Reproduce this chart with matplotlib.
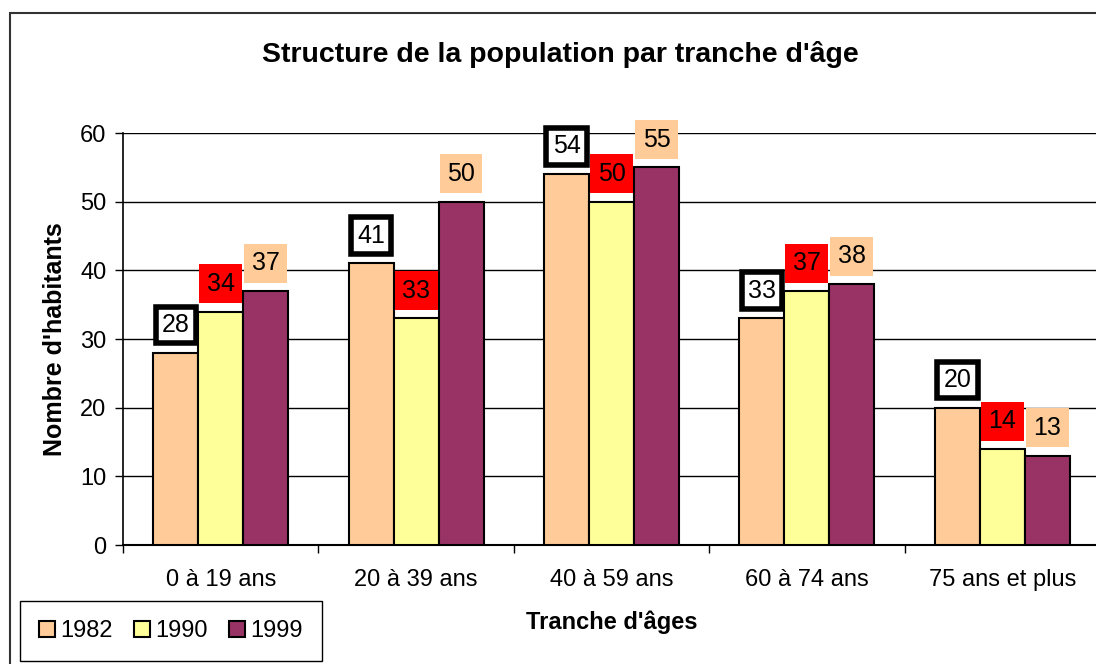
import numpy as np
import matplotlib
matplotlib.use("Agg")
import matplotlib.pyplot as plt
from matplotlib.patches import Rectangle

plt.rcParams['font.family'] = ['Liberation Sans', 'DejaVu Sans']

# donnees
tranches = ["0 à 19 ans", "20 à 39 ans", "40 à 59 ans", "60 à 74 ans", "75 ans et plus"]
annees = ["1982", "1990", "1999"]
v1982 = [28, 41, 54, 33, 20]
v1990 = [34, 33, 50, 37, 14]
v1999 = [37, 50, 55, 38, 13]

couleurs = ["#FFCC99", "#FFFF99", "#993366"]
fig = plt.figure(figsize=(10.96, 6.64), dpi=100)
ax = fig.add_axes([123/1096, 1-545/664, 977/1096, 412/664])

x = np.arange(len(tranches))
w = 0.23
series = [v1982, v1990, v1999]
bars = []
for i, vals in enumerate(series):
    b = ax.bar(x + (i-1)*w, vals, w, color=couleurs[i], edgecolor="black",
               linewidth=1.5, label=annees[i], zorder=3)
    bars.append(b)

# etiquettes de donnees
styles = [dict(boxstyle="square,pad=0.25", fc="white", ec="black", lw=4),
          dict(boxstyle="square,pad=0.3", fc="#FF0000", ec="none"),
          dict(boxstyle="square,pad=0.3", fc="#FFCC99", ec="none")]
for i, vals in enumerate(series):
    for j, v in enumerate(vals):
        ax.annotate(str(v), (x[j] + (i-1)*w, v), xytext=(0, 20), textcoords="offset points",
                    ha="center", va="center", fontsize=18, bbox=styles[i], zorder=5)

ax.set_xlim(-0.5, len(tranches)-0.5)
ax.set_ylim(0, 60)
ax.set_yticks(range(0, 61, 10))
ax.yaxis.grid(True, color="black", linewidth=1, zorder=0)
ax.set_xticks(x)
ax.set_xticklabels(tranches, fontsize=17)
ax.set_xticks(np.arange(-0.5, len(tranches), 1), minor=True)
ax.tick_params(axis="x", which="major", length=0, pad=17)
ax.tick_params(axis="x", which="minor", length=6, width=1, direction="out")
ax.tick_params(axis="y", labelsize=17, length=6, width=1, pad=6)
for s in ["top", "right"]:
    ax.spines[s].set_visible(False)
ax.spines["left"].set_linewidth(1.2)
ax.spines["bottom"].set_linewidth(1.5)

ax.set_xlabel("Tranche d'âges", fontsize=17, fontweight="bold", labelpad=14)
ax.set_ylabel("Nombre d'habitants", fontsize=18, fontweight="bold", labelpad=9)

fig.text(560/1096, 1-55/664, "Structure de la population par tranche d'âge",
         ha="center", va="center", fontsize=20.5, fontweight="bold")

# cadre exterieur
fig.patches.append(Rectangle((10/1096, -0.1), 2, 1-13/664+0.1, transform=fig.transFigure,
                             fill=False, edgecolor="#333333", linewidth=1.5))

leg = fig.legend(handles=bars, labels=annees, loc="lower left",
                 bbox_to_anchor=(20/1096, 3/664), ncol=3, fontsize=17,
                 fancybox=False, edgecolor="black", framealpha=1,
                 handlelength=0.7, handleheight=0.7, handletextpad=0.2,
                 columnspacing=0.9, borderpad=0.8, borderaxespad=0)
leg.get_frame().set_linewidth(1)

fig.savefig("out.png", dpi=100)
